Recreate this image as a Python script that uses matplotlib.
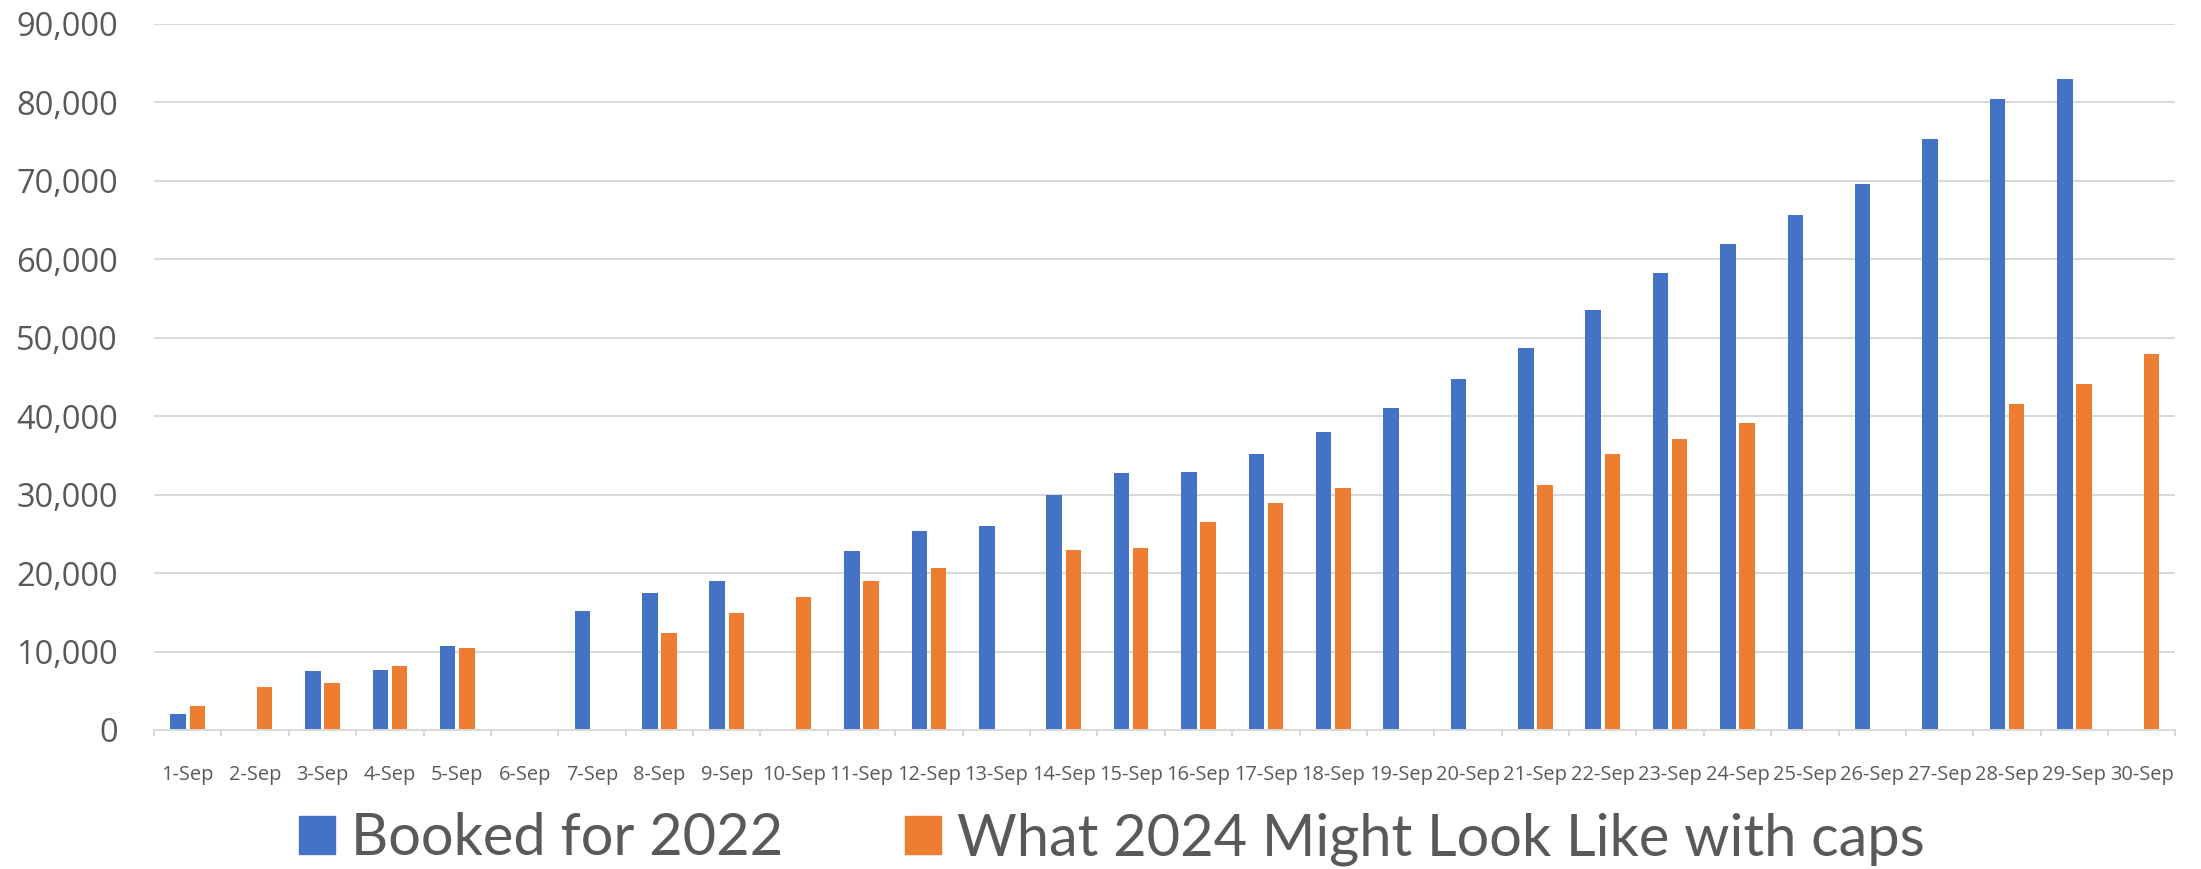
import numpy as np
import matplotlib
matplotlib.use("Agg")
import matplotlib.pyplot as plt
from matplotlib.patches import Patch
from matplotlib.ticker import FuncFormatter, FixedLocator

days = [f"{d}-Sep" for d in range(1, 31)]

# None = no bar for that day
booked_2022 = [2000, None, 7500, 7600, 10700, None, 15200, 17500, 19000, None,
               22800, 25300, 26000, 30000, 32700, 32900, 35200, 38000, 41100, 44700,
               48700, 53500, 58200, 62000, 65700, 69600, 75300, 80400, 83000, None]
capped_2024 = [3000, 5500, 6000, 8100, 10500, None, None, 12400, 14900, 16900,
               19000, 20600, None, 23000, 23200, 26500, 28900, 30900, None, None,
               31200, 35200, 37100, 39100, None, None, None, 41500, 44100, 47900]

label_2022 = "Booked for 2022"
label_2024 = "What 2024 Might Look Like with caps"

blue = "#4472C4"
orange = "#ED7D31"
grey_text = "#595959"
grid_col = "#D9D9D9"

b = np.array(booked_2022, dtype=float)
o = np.array(capped_2024, dtype=float)
x = np.arange(len(days))

fig = plt.figure(figsize=(22.01, 8.69), dpi=100)
ax = fig.add_axes([0.0700, 0.160, 0.9184, 0.8125])

w = 0.23
ax.bar(x - 0.142, b, width=w, color=blue, zorder=3)
ax.bar(x + 0.142, o, width=w, color=orange, zorder=3)

ax.set_xlim(-0.5, len(days) - 0.5)
ax.set_ylim(0, 90000)
ax.set_yticks(np.arange(0, 90001, 10000))
ax.yaxis.set_major_formatter(FuncFormatter(lambda v, p: f"{int(v):,}"))
ax.grid(axis="y", color=grid_col, linewidth=1.44, zorder=0)

ax.set_xticks(x)
ax.set_xticklabels(days)
ax.xaxis.set_minor_locator(FixedLocator(np.arange(-0.5, len(days), 1.0)))
ax.tick_params(axis="x", which="major", length=0, pad=25,
               labelsize=14.4, labelcolor=grey_text)
ax.tick_params(axis="x", which="minor", length=4.5, width=1.44, color=grid_col)
ax.tick_params(axis="y", length=0, pad=26, labelsize=23.5, labelcolor=grey_text)
for lab in ax.get_xticklabels() + ax.get_yticklabels():
    lab.set_fontfamily("Open Sans")

for s in ["top", "right", "left"]:
    ax.spines[s].set_visible(False)
ax.spines["bottom"].set_color(grid_col)
ax.spines["bottom"].set_linewidth(1.44)
ax.spines["bottom"].set_zorder(4)

handles = [Patch(color=blue, label=label_2022), Patch(color=orange, label=label_2024)]
fig.legend(handles=handles, loc="center", bbox_to_anchor=(1112 / 2201, 1 - 839 / 869),
           ncol=2, frameon=False, prop={"family": "Lato", "size": 41.6},
           labelcolor=grey_text, handlelength=0.62, handleheight=0.62,
           handletextpad=0.28, columnspacing=2.1)

fig.savefig("out.png", dpi=100)
